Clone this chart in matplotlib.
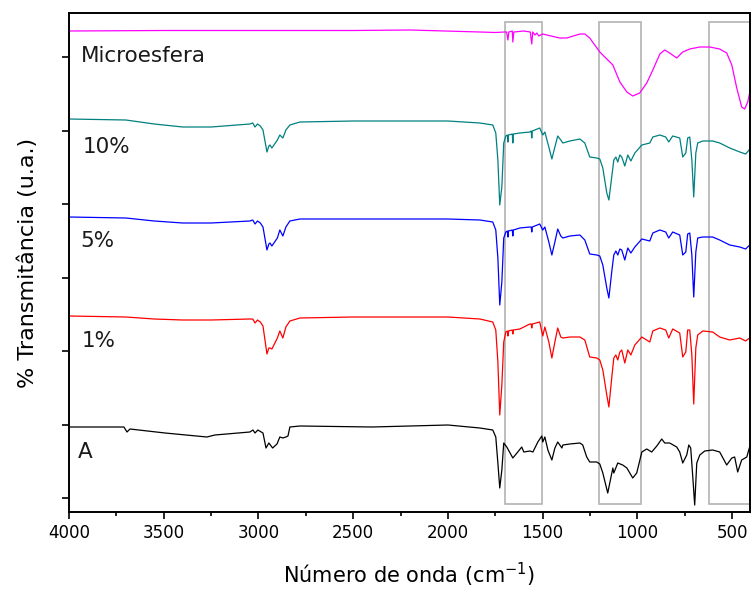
import numpy as np
import matplotlib
matplotlib.use("Agg")
import matplotlib.pyplot as plt
from matplotlib.patches import Rectangle
from matplotlib.ticker import MultipleLocator

# Wavenumber grid (cm-1) shared by the three composite spectra
wn_comp = [4000, 3700, 3550, 3400, 3250, 3045, 3030, 3018, 3005, 2990, 2976, 2955, 2945, 2939, 2929,
           2900, 2887, 2871, 2855, 2834, 2781, 2500, 2000, 1831, 1763, 1747, 1736, 1726, 1715, 1705,
           1694, 1686, 1683, 1680, 1660, 1657, 1654, 1620, 1567, 1560, 1557, 1554, 1515, 1499, 1488,
           1467, 1451, 1435, 1420, 1404, 1393, 1356, 1303, 1277, 1251, 1214, 1198, 1182, 1161, 1150,
           1135, 1124, 1113, 1103, 1092, 1082, 1066, 1050, 1034, 1013, 976, 934, 918, 881, 850, 834,
           813, 776, 760, 744, 734, 723, 712, 702, 691, 681, 654, 602, 565, 512, 459, 428, 401]

t_10 = [393, 392, 388, 385, 385, 388, 389, 385, 388, 386, 382, 360, 366, 367, 364,
        372, 377, 374, 382, 387, 390, 391, 391, 389, 387, 379, 352, 307, 325, 369,
        376, 377, 370, 377, 378, 369, 378, 379, 380, 381, 374, 381, 384, 377, 380,
        365, 353, 365, 376, 372, 369, 371, 373, 369, 355, 354, 353, 344, 319, 312,
        335, 352, 355, 350, 357, 355, 346, 357, 351, 359, 367, 369, 375, 377, 375, 370,
        376, 374, 355, 359, 374, 375, 352, 315, 359, 369, 371, 371, 369, 364, 360, 358, 364]

t_5 = [295, 294, 291, 289, 289, 291, 292, 288, 291, 289, 285, 262, 268, 269, 266,
       274, 282, 276, 285, 291, 293, 293, 293, 292, 290, 282, 254, 207, 230, 274,
       280, 281, 275, 281, 282, 276, 282, 284, 285, 285, 280, 285, 288, 282, 285,
       270, 257, 270, 283, 276, 274, 276, 277, 272, 258, 257, 256, 247, 224, 214,
       240, 257, 261, 257, 263, 262, 252, 264, 259, 265, 273, 271, 279, 282, 280, 274,
       280, 277, 257, 260, 278, 279, 257, 215, 260, 274, 275, 275, 272, 267, 265, 263, 268]

t_1 = [196, 195, 193, 192, 192, 193, 193, 189, 192, 190, 186, 158, 164, 164, 163,
       174, 181, 174, 185, 191, 194, 195, 195, 193, 190, 182, 150, 97, 127, 170,
       180, 181, 176, 181, 182, 178, 182, 183, 188, 188, 184, 188, 190, 176, 185,
       170, 154, 170, 184, 175, 174, 175, 175, 172, 155, 154, 152, 142, 117, 105,
       134, 154, 157, 152, 160, 162, 149, 162, 157, 167, 175, 170, 181, 184, 182, 174,
       183, 179, 155, 160, 182, 182, 157, 108, 164, 177, 181, 180, 175, 172, 174, 171, 175]

# Sample A
wn_a = [4000, 3710, 3694, 3678, 3493, 3272, 3230, 3045, 3029, 3018, 3003, 2976, 2960, 2945, 2925,
        2902, 2887, 2871, 2855, 2844, 2834, 2781, 2400, 2000, 1831, 1763, 1747, 1736, 1726, 1715,
        1705, 1689, 1657, 1631, 1610, 1599, 1567, 1551, 1525, 1504, 1499, 1488, 1472, 1451, 1435,
        1420, 1398, 1393, 1356, 1303, 1288, 1267, 1251, 1214, 1198, 1182, 1156, 1129, 1124, 1103,
        1077, 1055, 1024, 1003, 976, 950, 924, 897, 871, 855, 829, 792, 776, 760, 739, 728, 718,
        707, 697, 686, 670, 644, 602, 565, 528, 501, 486, 470, 449, 422, 401]
t_a = [85, 85, 80, 83, 79, 75, 77, 80, 82, 79, 82, 79, 64, 69, 64,
       68, 75, 74, 75, 76, 85, 86, 85, 87, 84, 82, 75, 49, 24, 42,
       69, 65, 54, 60, 65, 60, 61, 60, 70, 76, 70, 75, 62, 52, 64,
       70, 64, 67, 68, 69, 67, 55, 50, 50, 48, 39, 19, 44, 39, 49,
       47, 44, 34, 39, 60, 63, 60, 66, 73, 69, 69, 65, 60, 49, 57, 67, 64,
       35, 7, 49, 57, 61, 62, 60, 47, 54, 55, 40, 52, 55, 69]

# Microsphere
wn_m = [4000, 3500, 3000, 2500, 2200, 1831, 1750, 1700, 1690, 1683, 1678, 1660, 1657, 1652, 1600,
        1565, 1557, 1552, 1540, 1530, 1520, 1500, 1478, 1409, 1372, 1303, 1277, 1251, 1198, 1129,
        1092, 1055, 1024, 987, 950, 918, 881, 855, 829, 792, 760, 723, 670, 618, 565, 528, 501,
        475, 449, 433, 417, 401]
t_m = [481, 481.5, 481.5, 481.5, 482, 480, 479.5, 480, 480, 472, 480, 481, 470, 480, 481,
       480, 468, 480, 477, 479, 476, 478, 477, 474, 474, 478, 478, 474, 460, 447,
       430, 420, 416, 419, 429, 442, 458, 462, 459, 454, 460, 463, 465, 465, 463, 459, 447,
       424, 405, 403, 410, 424]

series = [
    (wn_m, t_m, "#ff00ff"),
    (wn_comp, t_10, "#008080"),
    (wn_comp, t_5, "#0000ff"),
    (wn_comp, t_1, "#ff0000"),
    (wn_a, t_a, "#000000"),
]

labels = ["Microesfera", "10%", "5%", "1%", "A"]
label_pos = [(3937, 456), (3926, 365), (3942, 271), (3931, 171), (3953, 60)]

# highlighted bands (cm-1)
bands = [(1700, 1505), (1200, 980), (620, 405)]

fig = plt.figure(figsize=(7.51, 5.89), dpi=100)
ax = fig.add_axes([69 / 751, 1 - 512 / 589, 681 / 751, 499 / 589])

for lo, hi in bands:
    ax.add_patch(Rectangle((hi, 8), lo - hi, 482, fill=False, edgecolor="#b3b3b3",
                           linewidth=1.2, zorder=1))

for wn, t, c in series:
    ax.plot(wn, t, color=c, linewidth=0.9, zorder=2)

for txt, (x, y) in zip(labels, label_pos):
    ax.text(x, y, txt, fontsize=15.5, ha="left", va="center", color="#1a1a1a")

ax.set_xlim(4000, 405)
ax.set_ylim(0, 499)
ax.xaxis.set_major_locator(MultipleLocator(500))
ax.xaxis.set_minor_locator(MultipleLocator(250))
ax.set_yticks(np.arange(14, 460, 73.5))
ax.set_yticklabels([])
ax.tick_params(axis="both", which="major", direction="out", length=5, width=1.2,
               labelsize=12, top=False, right=False)
ax.tick_params(axis="x", which="minor", direction="out", length=3, width=1.2, top=False)
for sp in ax.spines.values():
    sp.set_linewidth(1.4)

ax.set_xlabel("Número de onda (cm$^{-1}$)", fontsize=15, labelpad=14)
ax.set_ylabel("% Transmitância (u.a.)", fontsize=16, labelpad=14)

fig.savefig("out.png", dpi=100)
